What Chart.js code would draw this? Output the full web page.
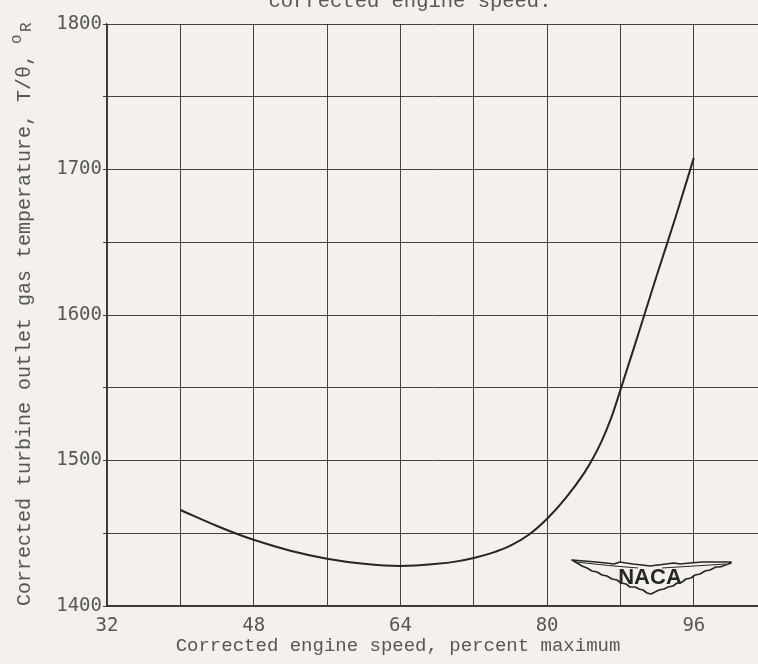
<!DOCTYPE html>
<html>
<head>
<meta charset="utf-8">
<script src="https://cdn.jsdelivr.net/npm/chart.js@4/dist/chart.umd.min.js"></script>
<style>
  html, body { margin: 0; padding: 0; background: #f4f0eb; }
  #wrap { width: 758px; height: 664px; }
</style>
</head>
<body>
<div id="wrap"><canvas id="c" width="758" height="664"></canvas></div>
<script>
// Corrected engine speed, percent of maximum
const speed = [40, 44, 46, 48, 52, 56, 60, 64, 68, 70, 72, 74, 76, 78, 80, 82, 84, 85, 86, 87, 88, 90, 92, 94, 96];
// Corrected turbine outlet gas temperature, T/theta, deg R
const temperature = [1466, 1455, 1450, 1445.5, 1438, 1432.5, 1429, 1427.5, 1429, 1430.5, 1433, 1436.5, 1441.5, 1449, 1460, 1474, 1491, 1501.5, 1514, 1529.5, 1548.5, 1588, 1628, 1667, 1708];

const xTickLabels = [32, 48, 64, 80, 96];
const yTickLabels = [1400, 1500, 1600, 1700, 1800];

const PAPER = '#f4f0eb';
const INK = '#262626';
const TEXT = '#575757';
const MONO = '"Liberation Mono", "DejaVu Sans Mono", monospace';
const DIGITS = '"DejaVu Sans Mono", monospace';

const points = speed.map((s, i) => ({ x: s, y: temperature[i] }));

function drawEmblem(ctx, cx, cy) {
  // wing outline relative to the centre of the lettering
  const top = [
    [-78, -17], [-66, -16], [-54, -15], [-44, -14], [-36, -13], [-30, -15],
    [-24, -14], [-17, -13], [-8, -12], [0, -11], [8, -12], [16, -13],
    [24, -14], [30, -13], [40, -14], [52, -15], [66, -15], [81, -15]
  ];
  const bottom = [
    [81, -14], [70, -10], [66, -10], [60, -7], [55, -6], [50, -3], [45, -2],
    [41, 1], [36, 2], [32, 5], [27, 6], [23, 9], [18, 10], [14, 12],
    [9, 13], [5, 15], [1, 17], [-3, 16], [-7, 13], [-11, 12], [-15, 10],
    [-20, 10], [-24, 7], [-29, 6], [-33, 3], [-38, 2], [-43, -1], [-48, -2],
    [-53, -5], [-58, -6], [-63, -9], [-68, -11], [-73, -14], [-78, -17]
  ];
  ctx.save();
  ctx.translate(cx, cy);
  ctx.beginPath();
  top.concat(bottom).forEach((p, i) => {
    if (i === 0) ctx.moveTo(p[0], p[1]); else ctx.lineTo(p[0], p[1]);
  });
  ctx.closePath();
  ctx.fillStyle = PAPER;
  ctx.fill();
  ctx.lineWidth = 1.6;
  ctx.lineJoin = 'round';
  ctx.strokeStyle = INK;
  ctx.stroke();
  // inner stroke along the leading edge
  ctx.beginPath();
  ctx.moveTo(-74, -15);
  ctx.quadraticCurveTo(-40, -11, -12, -9);
  ctx.moveTo(12, -9);
  ctx.quadraticCurveTo(44, -11, 76, -13);
  ctx.lineWidth = 1;
  ctx.stroke();
  ctx.fillStyle = INK;
  ctx.font = 'bold 22px "Liberation Sans", Arial, sans-serif';
  ctx.textAlign = 'center';
  ctx.textBaseline = 'middle';
  ctx.fillText('NACA', 0, 1);
  ctx.restore();
}

// Title line, axis captions and the NACA wing emblem
const decorations = {
  id: 'decorations',
  beforeDraw(chart) {
    const ctx = chart.ctx;
    ctx.save();
    ctx.fillStyle = PAPER;
    ctx.fillRect(0, 0, chart.width, chart.height);
    ctx.restore();
  },
  afterDraw(chart) {
    const ctx = chart.ctx;
    const area = chart.chartArea;
    ctx.save();
    ctx.fillStyle = TEXT;
    ctx.textBaseline = 'alphabetic';

    ctx.font = '20.5px ' + MONO;
    ctx.textAlign = 'center';
    ctx.fillText('corrected engine speed.', 410, 7);

    ctx.font = '19px ' + MONO;
    ctx.fillText('Corrected engine speed, percent maximum', 398, 651);

    // y caption, reading bottom to top
    ctx.translate(30, area.bottom);
    ctx.rotate(-Math.PI / 2);
    ctx.textAlign = 'left';
    ctx.font = '20px ' + MONO;
    const main = 'Corrected turbine outlet gas temperature, T/\u03b8, ';
    ctx.fillText(main, 0, 0);
    const w = ctx.measureText(main).width;
    ctx.font = '16px ' + MONO;
    ctx.fillText('o', w - 2, -9);
    ctx.fillText('R', w + 10, 1);
    ctx.restore();

    drawEmblem(ctx, 650, 577);
  }
};

new Chart(document.getElementById('c'), {
  type: 'line',
  data: {
    datasets: [{
      data: points,
      borderColor: INK,
      borderWidth: 2,
      pointRadius: 0,
      fill: false,
      cubicInterpolationMode: 'monotone'
    }]
  },
  options: {
    responsive: false,
    animation: false,
    devicePixelRatio: 1,
    layout: { padding: { left: 0, top: 24, right: 0, bottom: 0 } },
    plugins: { legend: { display: false }, tooltip: { enabled: false }, title: { display: false } },
    scales: {
      x: {
        type: 'linear',
        min: 32,
        max: 103,
        afterBuildTicks(scale) {
          const t = [];
          for (let v = 32; v <= 96; v += 8) t.push({ value: v });
          scale.ticks = t;
        },
        afterFit(scale) { scale.height = 58; },
        grid: { color: 'rgba(35,35,35,0.85)', lineWidth: 1, tickLength: 0 },
        border: { color: 'rgba(35,35,35,0.9)', width: 1.2 },
        ticks: {
          autoSkip: false,
          maxRotation: 0,
          padding: 9,
          color: TEXT,
          font: { family: DIGITS, size: 19 },
          callback: (v) => xTickLabels.includes(v) ? String(v) : ''
        }
      },
      y: {
        min: 1400,
        max: 1800,
        afterBuildTicks(scale) {
          const t = [];
          for (let v = 1400; v <= 1800; v += 50) t.push({ value: v });
          scale.ticks = t;
        },
        afterFit(scale) { scale.width = 107; },
        grid: { color: 'rgba(35,35,35,0.85)', lineWidth: 1, tickLength: 4 },
        border: { color: 'rgba(35,35,35,0.9)', width: 1.2 },
        ticks: {
          autoSkip: false,
          padding: 1,
          color: TEXT,
          font: { family: DIGITS, size: 19 },
          callback: (v) => yTickLabels.includes(v) ? String(v) : ''
        }
      }
    }
  },
  plugins: [decorations]
});
</script>
</body>
</html>
